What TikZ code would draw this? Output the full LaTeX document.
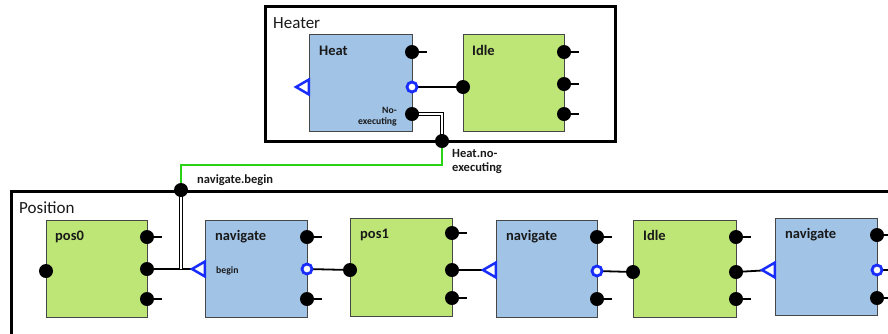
\documentclass[tikz,border=0pt]{standalone}
\usepackage{fontspec}
\setmainfont{Carlito}
\usetikzlibrary{shapes.geometric,backgrounds}
\definecolor{boxblue}{RGB}{160,195,230}
\definecolor{boxgreen}{RGB}{190,230,118}
\definecolor{boxline}{RGB}{70,70,70}
\definecolor{portblue}{RGB}{25,45,250}
\definecolor{wiregreen}{RGB}{40,210,20}
\definecolor{txt}{RGB}{25,25,25}
\begin{document}
\begin{tikzpicture}[x=1pt,y=-1pt,
  frame/.style={draw=black, line width=2.5pt, inner sep=0, anchor=north west},
  bluebox/.style={draw=boxline, fill=boxblue, line width=0.8pt, inner sep=0, anchor=north west},
  greenbox/.style={draw=boxline, fill=boxgreen, line width=0.8pt, inner sep=0, anchor=north west},
  bdot/.style={circle, fill=black, minimum size=14pt, inner sep=0},
  hport/.style={circle, draw=portblue, line width=2.8pt, fill=white, minimum size=10pt, inner sep=0},
  tport/.style={regular polygon, regular polygon sides=3, shape border rotate=90, draw=portblue, line width=2.5pt, fill=white, minimum size=17pt, inner sep=0},
  stub/.style={line width=1.8pt, black},
  wire/.style={line width=1.8pt, black},
  dwire/.style={draw=black, line width=0.9pt, double=white, double distance=1.4pt},
  gwire/.style={line width=2pt, wiregreen},
  title/.style={font=\bfseries\fontsize{14.5}{16}\selectfont, text=txt, inner sep=0, anchor=base west},
  ftitle/.style={font=\fontsize{17}{20}\selectfont, text=txt, inner sep=0, anchor=base west},
  small/.style={font=\bfseries\fontsize{9.7}{11}\selectfont, text=txt, inner sep=0},
  mid/.style={font=\bfseries\fontsize{12.5}{14}\selectfont, text=txt, inner sep=0}
]
\useasboundingbox (0,0) rectangle (888,333);
\clip (0,0) rectangle (888,333);

% frames
\node[frame, minimum width=350pt, minimum height=135pt] (heater) at (264,5) {};
\node[ftitle] (heaterT) at (273,28) {Heater};
\node[frame, minimum width=900pt, minimum height=160pt] (position) at (10,190) {};
\node[ftitle] (positionT) at (19,213) {Position};

% heater boxes
\node[bluebox, minimum width=103pt, minimum height=97pt] (heat) at (309,34) {};
\node[title] (heatT) at (319,55) {Heat};
\node[small, anchor=base east, align=right] (noexT) at (397,124) {No-\\executing};
\node[greenbox, minimum width=101pt, minimum height=97pt] (idleH) at (463,34) {};
\node[title] (idleHT) at (472,55) {Idle};

% position boxes
\node[greenbox, minimum width=101pt, minimum height=97pt] (pos0) at (46,220) {};
\node[title] (pos0T) at (55,240) {pos0};
\node[bluebox, minimum width=102pt, minimum height=97pt] (nav1) at (205,220) {};
\node[title] (nav1T) at (215,240) {navigate};
\node[small, anchor=base west] (beginT) at (216,273) {begin};
\node[greenbox, minimum width=102pt, minimum height=98pt] (pos1) at (350,218) {};
\node[title] (pos1T) at (360,238) {pos1};
\node[bluebox, minimum width=101pt, minimum height=97pt] (nav2) at (496,220) {};
\node[title] (nav2T) at (506,240) {navigate};
\node[greenbox, minimum width=103pt, minimum height=97pt] (idleP) at (633,220) {};
\node[title] (idlePT) at (643,240) {Idle};
\node[bluebox, minimum width=102pt, minimum height=97pt] (nav3) at (775,218) {};
\node[title] (nav3T) at (785,238) {navigate};

% heater ports
\node[bdot] (hA) at (412,52) {};
\node[hport] (hOut) at (412,87) {};
\node[bdot] (hNo) at (412,114) {};
\node[tport] (hIn) at (304.5,87) {};
\node[bdot] (iIn) at (463,87) {};
\node[bdot] (iA) at (564,52) {};
\node[bdot] (iB) at (564,84) {};
\node[bdot] (iC) at (564,114) {};

% junctions
\node[bdot] (hn) at (442,141) {};
\node[bdot] (nb) at (181,190) {};
\node[mid, anchor=base west, align=left] (hnT) at (452,171) {Heat.no-\\executing};
\node[mid, anchor=base west] (nbT) at (197,183) {navigate.begin};

% position ports
\node[bdot] (p0in) at (46,271) {};
\node[bdot] (p0a) at (147,237) {};
\node[bdot] (p0m) at (147,269) {};
\node[bdot] (p0c) at (147,299) {};
\node[tport] (n1in) at (200.5,269) {};
\node[bdot] (n1a) at (307,237) {};
\node[hport] (n1out) at (307,269) {};
\node[bdot] (n1c) at (307,299) {};
\node[bdot] (p1in) at (350,270) {};
\node[bdot] (p1a) at (452,233) {};
\node[bdot] (p1m) at (452,270) {};
\node[bdot] (p1c) at (452,298) {};
\node[tport] (n2in) at (491.5,270) {};
\node[bdot] (n2a) at (597,237) {};
\node[hport] (n2out) at (597,271) {};
\node[bdot] (n2c) at (597,299) {};
\node[bdot] (ipin) at (633,272) {};
\node[bdot] (ipa) at (736,237) {};
\node[bdot] (ipm) at (736,272) {};
\node[bdot] (ipc) at (736,299) {};
\node[tport] (n3in) at (770.5,270) {};
\node[bdot] (n3a) at (877,235) {};
\node[hport] (n3out) at (877,270) {};
\node[bdot] (n3c) at (877,298) {};

\begin{scope}[on background layer]
  % stubs
  \foreach \p in {hA,iA,iB,iC,p0a,p0c,n1a,n1c,p1a,p1c,n2a,n2c,ipa,ipc,n3a,n3out,n3c}
    \draw[stub] (\p.center) -- ++(15,0);
  % wires
  \draw[wire] (hOut.center) -- (iIn.center);
  \draw[wire] (p0m.center) -- (n1in.center);
  \draw[wire] (n1out.center) -- (p1in.center);
  \draw[wire] (p1m.center) -- (n2in.center);
  \draw[wire] (n2out.center) -- (ipin.center);
  \draw[wire] (ipm.center) -- (n3in.center);
  \draw[dwire] (hNo.center) -| (hn.center);
  \draw[dwire] (nb.center) -- (nb |- p0m);
  \draw[gwire] (hn.center) -- ++(0,24) -| (nb.center);
\end{scope}
\end{tikzpicture}
\end{document}
